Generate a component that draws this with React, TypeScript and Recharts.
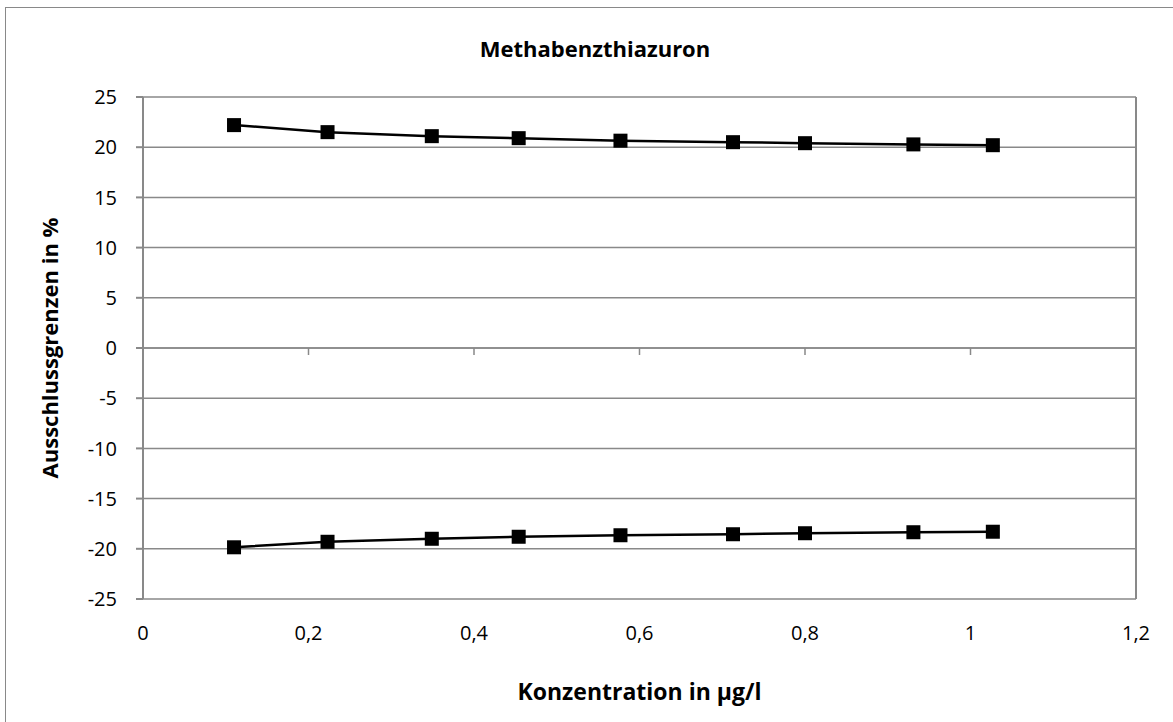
import React from 'react';
import {
  LineChart,
  Line,
  XAxis,
  YAxis,
  CartesianGrid,
  ReferenceLine,
} from 'recharts';

const concentration = [0.11, 0.223, 0.349, 0.454, 0.577, 0.713, 0.8, 0.931, 1.027];
const upperLimit = [22.2, 21.5, 21.1, 20.9, 20.65, 20.5, 20.4, 20.28, 20.2];
const lowerLimit = [-19.85, -19.3, -19.0, -18.8, -18.65, -18.55, -18.45, -18.35, -18.3];
const xTicks = [0, 0.2, 0.4, 0.6, 0.8, 1, 1.2];
const yTicks = [-25, -20, -15, -10, -5, 0, 5, 10, 15, 20, 25];

const data = concentration.map((x, i) => ({
  x,
  upper: upperLimit[i],
  lower: lowerLimit[i],
}));

const gray = '#898989';

const SquareDot = (props: any) => {
  const { cx, cy, index } = props;
  if (cx == null || cy == null) return null;
  return <rect key={index} x={cx - 7} y={cy - 7} width={14} height={14} fill="#000" />;
};

const fmt = (v: number) => String(v).replace('.', ',');

export default function App() {
  return (
    <div
      style={{
        position: 'absolute',
        left: 0,
        top: 0,
        width: 1173,
        height: 722,
        overflow: 'hidden',
        background: '#fff',
        fontFamily: '"Open Sans", sans-serif',
      }}
    >
      {/* chart frame, only left and top edges are visible */}
      <div
        style={{
          position: 'absolute',
          left: 5,
          top: 7,
          width: 1300,
          height: 900,
          borderLeft: `1px solid ${gray}`,
          borderTop: `1px solid ${gray}`,
        }}
      />
      <div
        style={{
          position: 'absolute',
          left: 0,
          width: 1190,
          top: 34,
          textAlign: 'center',
          fontWeight: 'bold',
          fontSize: 22,
          lineHeight: '28px',
          color: '#000',
        }}
      >
        Methabenzthiazuron
      </div>
      <div style={{ position: 'absolute', left: 0, top: 0 }}>
        <LineChart
          width={1173}
          height={722}
          data={data}
          margin={{ top: 97, right: 37, left: 0, bottom: 0 }}
        >
          <CartesianGrid vertical={false} stroke={gray} strokeWidth={1.5} />
          <XAxis
            dataKey="x"
            type="number"
            domain={[0, 1.2]}
            ticks={xTicks}
            height={123}
            axisLine={false}
            tickLine={false}
            tickSize={0}
            tickMargin={27}
            tickFormatter={fmt}
            tick={{ fill: '#000', fontSize: 20 }}
            label={{
              value: 'Konzentration in µg/l',
              position: 'insideBottom',
              offset: 22,
              style: { fill: '#000', fontSize: 23, fontWeight: 'bold' },
            }}
          />
          <YAxis
            type="number"
            domain={[-25, 25]}
            ticks={yTicks}
            width={143}
            stroke={gray}
            strokeWidth={2}
            tickSize={7}
            tickMargin={19}
            tick={{ fill: '#000', fontSize: 20 }}
            label={{
              value: 'Ausschlussgrenzen in %',
              angle: -90,
              position: 'insideLeft',
              offset: 50,
              style: { fill: '#000', fontSize: 22, fontWeight: 'bold', textAnchor: 'middle' },
            }}
          />
          <ReferenceLine y={0} stroke={gray} strokeWidth={1.5} />
          <ReferenceLine x={1.2} stroke={gray} strokeWidth={2} />
          {xTicks.slice(1, -1).map((t) => (
            <ReferenceLine
              key={t}
              segment={[
                { x: t, y: 0 },
                { x: t, y: -0.7 },
              ]}
              stroke={gray}
              strokeWidth={1.5}
            />
          ))}
          <Line
            type="linear"
            dataKey="upper"
            stroke="#000"
            strokeWidth={2.5}
            dot={SquareDot}
            activeDot={false}
            isAnimationActive={false}
          />
          <Line
            type="linear"
            dataKey="lower"
            stroke="#000"
            strokeWidth={2.5}
            dot={SquareDot}
            activeDot={false}
            isAnimationActive={false}
          />
        </LineChart>
      </div>
    </div>
  );
}
